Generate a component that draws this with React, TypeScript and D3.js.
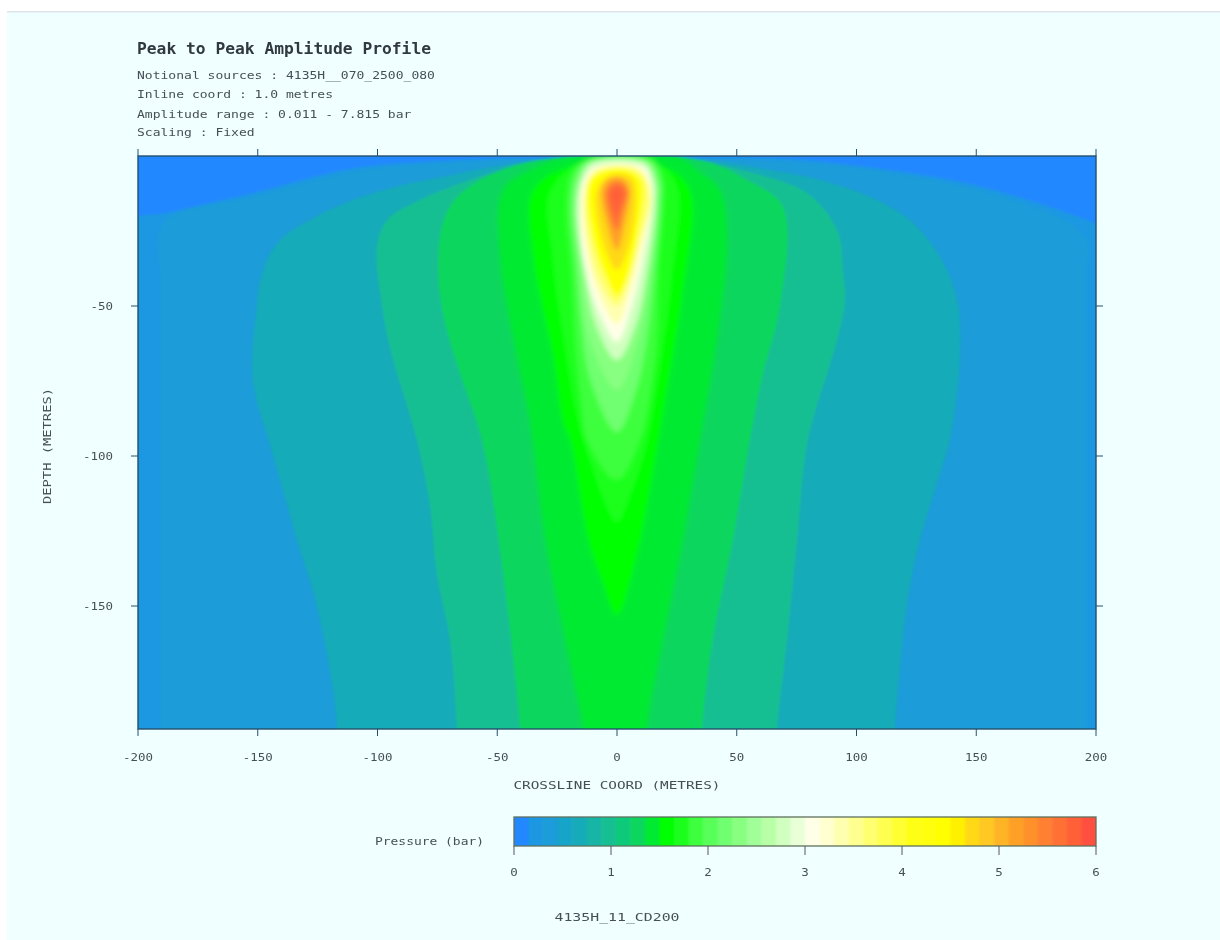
import React from "react";
import * as d3 from "d3";

// ---- text ----
const titleText = "Peak to Peak Amplitude Profile";
const infoLines = [
  "Notional sources : 4135H__070_2500_080",
  "Inline coord : 1.0 metres",
  "Amplitude range : 0.011 - 7.815 bar",
  "Scaling : Fixed",
];
const xTicks = [-200, -150, -100, -50, 0, 50, 100, 150, 200];
const yTicks = [-50, -100, -150];
const barTicks = [0, 1, 2, 3, 4, 5, 6];
const xTitle = "CROSSLINE COORD (METRES)";
const yTitle = "DEPTH (METRES)";
const barTitle = "Pressure (bar)";
const footer = "4135H_11_CD200";

// ---- 40 colour steps of the pressure scale, 0.15 bar each ----
const palette = [
  "#2288ff", "#1c98e2", "#1a9cd8", "#18a4c8", "#17abb8", "#15b5a5", "#14bf92", "#10ca7a",
  "#0dd65f", "#06ea30", "#00ff00", "#1cff1c", "#3cff3c", "#58ff58", "#70ff70", "#88ff80",
  "#a0ff98", "#b8ffa8", "#d0ffc0", "#e8ffd8", "#ffffe8", "#ffffd0", "#ffffb0", "#ffff90",
  "#ffff70", "#ffff50", "#ffff30", "#ffff18", "#ffff08", "#ffff00", "#fff000", "#ffd818",
  "#ffc820", "#ffb428", "#ffa028", "#ff902c", "#ff8030", "#ff7034", "#ff6038", "#ff5040",
];

// ---- iso-pressure outlines: [crossline m, depth m] ----
const band1 = [[-205, 205], [-205, 100], [-205, 23], [-186.6, 18.7], [-152, 12.3], [-110, 4], [-68, 1.3], [-30, 0.5], [30, 0.5], [71, 0.9], [98.5, 3], [140, 8], [168, 13.7], [198.7, 22], [205, 24], [205, 100], [205, 205]];
const band2 = [[-190.8, 205], [-190.8, 100], [-190.8, 40], [-190.8, 25], [-187, 20.5], [-152, 13.7], [-110, 5.3], [-68, 2.3], [-30, 0.8], [30, 0.8], [68, 2], [98, 4], [140, 9.5], [168, 15.5], [188, 22], [196, 28], [196, 40], [196, 100], [196, 205]];
const band4 = [[-119, 205], [-116.9, 191], [-125.3, 150], [-133.6, 128], [-143.6, 99.7], [-152, 74.7], [-150.3, 49.7], [-147.8, 38], [-140.7, 28], [-128.2, 21.3], [-110.2, 14.7], [-89.4, 9.7], [-68.5, 6.3], [-47.6, 3], [-23.8, 0.7], [35.9, 1.3], [63.9, 4.7], [84.8, 8], [108.6, 14.7], [123.6, 22.3], [134.9, 33.7], [142, 48], [143.2, 67], [139, 94.7], [134.9, 105.7], [126.5, 128], [121, 150], [116, 191], [115, 205]];
const band6 = [[-66, 205], [-66.8, 191], [-69.7, 161.3], [-75.2, 139], [-78, 117], [-83.5, 94.7], [-94.8, 63.7], [-99, 44.7], [-100.2, 30.3], [-96, 21.5], [-82.3, 14.7], [-61.4, 8], [-47.6, 4.7], [-23.8, 1.3], [35.9, 2.3], [56.8, 5.7], [79.3, 12.3], [91.9, 24.7], [94.4, 39], [95.2, 48], [91.9, 61.3], [79.7, 94.7], [75.2, 128], [71, 161.3], [66.8, 191], [66, 205]];
const band8 = [[-40, 205], [-40.5, 191], [-47.6, 139], [-56.4, 94.7], [-65.6, 72.3], [-71.8, 55.7], [-74.7, 39], [-72.7, 22.3], [-66.8, 13.7], [-53, 6.3], [-32, 1.3], [34.7, 1.3], [54.3, 8], [69.3, 17], [68, 50.3], [61, 72.3], [55.5, 94.7], [48.4, 128], [40, 161.3], [35.5, 191], [35, 205]];
const band9 = [[-13, 205], [-14.2, 191], [-21.7, 161.3], [-30, 128], [-36.3, 89], [-41.8, 67], [-48.9, 33.7], [-47.6, 11.3], [-36.3, 4.7], [-21.7, 0.7], [26.3, 0.7], [33.4, 4.7], [43, 11.3], [46, 28], [41.8, 61.3], [34.7, 94.7], [27.6, 128], [19.2, 161.3], [12.5, 191], [12, 205]];
const band10 = [[0, 153], [-7, 140], [-12, 128], [-19.6, 94.7], [-22.5, 89], [-26.7, 67], [-35, 33.7], [-35, 11.3], [-17.5, 3], [18, 3], [30.5, 11.3], [27.6, 44.7], [20.9, 78], [15, 105.7], [8, 134]];
const band11 = [[0, 122], [-11, 102], [-17, 85], [-22, 62], [-27, 33], [-28, 12], [-15, 2.5], [16, 2.5], [25, 10], [23, 40], [18, 70], [12, 97], [6, 112]];
const band12 = [[0, 108], [-12.5, 94.7], [-14.7, 83.6], [-17.5, 61.3], [-18.9, 39], [-21, 16.9], [-18.9, 5.7], [-12.6, 1.3], [15, 1.3], [19.3, 8], [19.3, 16.9], [17.2, 39], [16.6, 61.3], [13, 83.6], [9.6, 94.7]];
const band14 = [[0, 92], [-11, 75], [-15, 55], [-17, 36], [-19, 17], [-17, 6.3], [-12, 1.6], [13.5, 1.6], [17.8, 8], [18, 17], [15.5, 39], [12.5, 61], [8, 78]];
const band15 = [[0, 78], [-11.3, 61.3], [-15.4, 39], [-18, 16.9], [-16.2, 6.9], [-11.3, 1.9], [12.4, 1.9], [16.6, 8], [16.7, 16.9], [13.8, 39], [8.8, 61.3]];
const band18 = [[0, 68], [-8.5, 57], [-13.4, 39], [-16.6, 16.9], [-14.7, 7.4], [-10.6, 2.4], [11.7, 2.4], [15.4, 8], [15.9, 16.9], [12.4, 39], [7.5, 57]];
const band20 = [[0, 62], [-8.5, 50.2], [-14.2, 33.6], [-15.7, 16.9], [-14, 8], [-9.2, 3.6], [10.9, 3.6], [14.5, 9.1], [14.5, 16.9], [10.9, 33.6], [6.1, 50.2]];
const band22 = [[0, 56], [-7.8, 46], [-13, 31], [-14.5, 15.8], [-12.3, 7.2], [-7.5, 3.8], [8.9, 3.8], [13, 8], [14.2, 15.8], [10.2, 31], [5.4, 46]];
const band24 = [[0, 50], [-7.1, 42.4], [-12, 28], [-13.4, 14.7], [-10.6, 6.3], [-5.8, 4], [6.9, 4], [11.7, 6.9], [14, 14.7], [9.6, 28], [4.8, 42.4]];
const band29 = [[0, 47], [-4.2, 41.3], [-10, 28], [-12.1, 9], [-7, 5.3], [0, 4], [7, 5.3], [10.9, 9], [8.4, 28], [4.2, 41.3]];
const band31 = [[0, 38], [-5, 31], [-8.8, 13], [-5, 7.3], [0, 6], [6.3, 7.3], [8, 13], [4.6, 31]];
const band34 = [[0, 31.3], [-4.2, 22.3], [-6.3, 11.3], [-3.8, 8], [0, 7], [3.3, 8], [5.4, 11.3], [3.3, 22.3]];
const band37 = [[0, 24.7], [-3, 19], [-4.2, 11.3], [0, 8.7], [4.2, 11.3], [2, 19]];
const band38 = [[0, 19.7], [-1.7, 16.3], [-2.5, 12], [0, 10], [2.5, 12], [1.3, 16.3]];

// Outlines that run off the plot stay open; the fill closes them below the plot.
const outerRings: [number, number[][]][] = [
  [1, band1], [2, band2], [4, band4], [6, band6], [8, band8],
];
const openInner: [number, number[][]][] = [[9, band9]];
const closedInner: [number, number[][]][] = [
  [10, band10], [11, band11], [12, band12], [14, band14], [15, band15],
  [18, band18], [20, band20], [22, band22], [24, band24], [29, band29],
  [31, band31], [34, band34], [37, band37], [38, band38],
];

const x = d3.scaleLinear().domain([-200, 200]).range([138, 1096]);
const y = d3.scaleLinear().domain([0, 191]).range([156, 729]);
const bar = d3.scaleLinear().domain([0, 6]).range([514, 1096]);

const openOutline = d3
  .line<number[]>()
  .x((p) => x(p[0]))
  .y((p) => y(p[1]))
  .curve(d3.curveCatmullRom.alpha(0.5));
const closedOutline = d3
  .line<number[]>()
  .x((p) => x(p[0]))
  .y((p) => y(p[1]))
  .curve(d3.curveCatmullRomClosed.alpha(0.5));

const MONO = "'DejaVu Sans Mono', 'Liberation Mono', monospace";
const ink = "#465056";
const frame = "#24506c";

export default function App() {
  const [x0, x1] = x.range();
  const [y0, y1] = y.range();
  const small = {
    fontFamily: MONO,
    fontSize: 11,
    fill: ink,
    filter: "url(#soft)",
    lengthAdjust: "spacingAndGlyphs" as const,
  };
  return (
    <svg
      width={1220}
      height={940}
      viewBox="0 0 1220 940"
      style={{ position: "absolute", left: 0, top: 0, display: "block" }}
    >
      <defs>
        <filter id="fieldBlur" filterUnits="userSpaceOnUse" x={100} y={120} width={1040} height={650}>
          <feGaussianBlur stdDeviation={1.3} />
        </filter>
        <filter id="coreBlur" filterUnits="userSpaceOnUse" x={100} y={120} width={1040} height={650}>
          <feGaussianBlur stdDeviation={2.4} />
        </filter>
        <filter id="barBlur" filterUnits="userSpaceOnUse" x={500} y={805} width={610} height={55}>
          <feGaussianBlur stdDeviation={1} />
        </filter>
        <filter id="soft" x="-5%" y="-30%" width="110%" height="160%">
          <feGaussianBlur stdDeviation={0.55} />
        </filter>
        <clipPath id="plotClip">
          <rect x={x0} y={y0} width={x1 - x0} height={y1 - y0} />
        </clipPath>
        <clipPath id="barClip">
          <rect x={514} y={817} width={582} height={29} />
        </clipPath>
      </defs>

      <rect x={0} y={0} width={1220} height={940} fill="#ffffff" />
      <rect x={7} y={12} width={1213} height={928} fill="#f0ffff" />
      <rect x={7} y={11} width={1213} height={1.5} fill="#dde6ea" />

      <text
        x={137}
        y={54}
        fontFamily={MONO}
        fontSize={15}
        fontWeight={700}
        textLength={294}
        lengthAdjust="spacingAndGlyphs"
        fill="#303840"
        filter="url(#soft)"
      >
        {titleText}
      </text>
      {infoLines.map((t, i) => (
        <text key={t} x={137} y={[79, 98, 118, 136][i]} textLength={t.length * 7.84} {...small}>
          {t}
        </text>
      ))}

      <g clipPath="url(#plotClip)">
        <g filter="url(#fieldBlur)">
          <rect x={x0 - 20} y={y0 - 20} width={x1 - x0 + 40} height={y1 - y0 + 40} fill={palette[0]} />
          {outerRings.map(([band, pts]) => (
            <path key={band} d={openOutline(pts as any) as string} fill={palette[band]} />
          ))}
        </g>
        <g filter="url(#coreBlur)">
          {openInner.map(([band, pts]) => (
            <path key={band} d={openOutline(pts as any) as string} fill={palette[band]} />
          ))}
          {closedInner.map(([band, pts]) => (
            <path key={band} d={closedOutline(pts as any) as string} fill={palette[band]} />
          ))}
        </g>
      </g>

      <rect x={x0} y={y0} width={x1 - x0} height={y1 - y0} fill="none" stroke={frame} strokeWidth={1.4} />
      {xTicks.map((t) => (
        <g key={t} stroke={frame} strokeWidth={1}>
          <line x1={x(t)} x2={x(t)} y1={y0} y2={y0 - 7} />
          <line x1={x(t)} x2={x(t)} y1={y1} y2={y1 + 7} />
        </g>
      ))}
      {yTicks.map((t) => (
        <g key={t} stroke={frame} strokeWidth={1}>
          <line x1={x0 - 7} x2={x0} y1={y(-t)} y2={y(-t)} />
          <line x1={x1} x2={x1 + 7} y1={y(-t)} y2={y(-t)} />
        </g>
      ))}
      {xTicks.map((t) => {
        const s = String(t);
        return (
          <text key={t} x={x(t)} y={761} textAnchor="middle" textLength={s.length * 7.5} {...small}>
            {s}
          </text>
        );
      })}
      {yTicks.map((t) => {
        const s = String(t);
        return (
          <text key={t} x={113} y={y(-t) + 4} textAnchor="end" textLength={s.length * 7.5} {...small}>
            {s}
          </text>
        );
      })}
      <text x={617} y={789} textAnchor="middle" textLength={207} {...small}>
        {xTitle}
      </text>
      <text transform="translate(51,446) rotate(-90)" textAnchor="middle" textLength={116} {...small}>
        {yTitle}
      </text>

      <g clipPath="url(#barClip)">
        <g filter="url(#barBlur)">
          {palette.map((c, i) => (
            <rect
              key={i}
              x={bar(i * 0.15) - (i === 0 ? 12 : 0)}
              y={805}
              width={bar(0.15) - bar(0) + (i === 0 || i === 39 ? 12.5 : 0.5)}
              height={53}
              fill={c}
            />
          ))}
        </g>
      </g>
      <rect x={514} y={817} width={582} height={29} fill="none" stroke="#5f705f" strokeWidth={1.3} />
      {barTicks.map((t) => (
        <g key={t}>
          <line x1={bar(t)} x2={bar(t)} y1={846} y2={855} stroke="#556" strokeWidth={1} />
          <text x={bar(t)} y={876} textAnchor="middle" textLength={7.5} {...small}>
            {t}
          </text>
        </g>
      ))}
      <text x={484} y={845} textAnchor="end" textLength={109} {...small}>
        {barTitle}
      </text>
      <text x={617} y={921} textAnchor="middle" textLength={125} {...small}>
        {footer}
      </text>
    </svg>
  );
}
